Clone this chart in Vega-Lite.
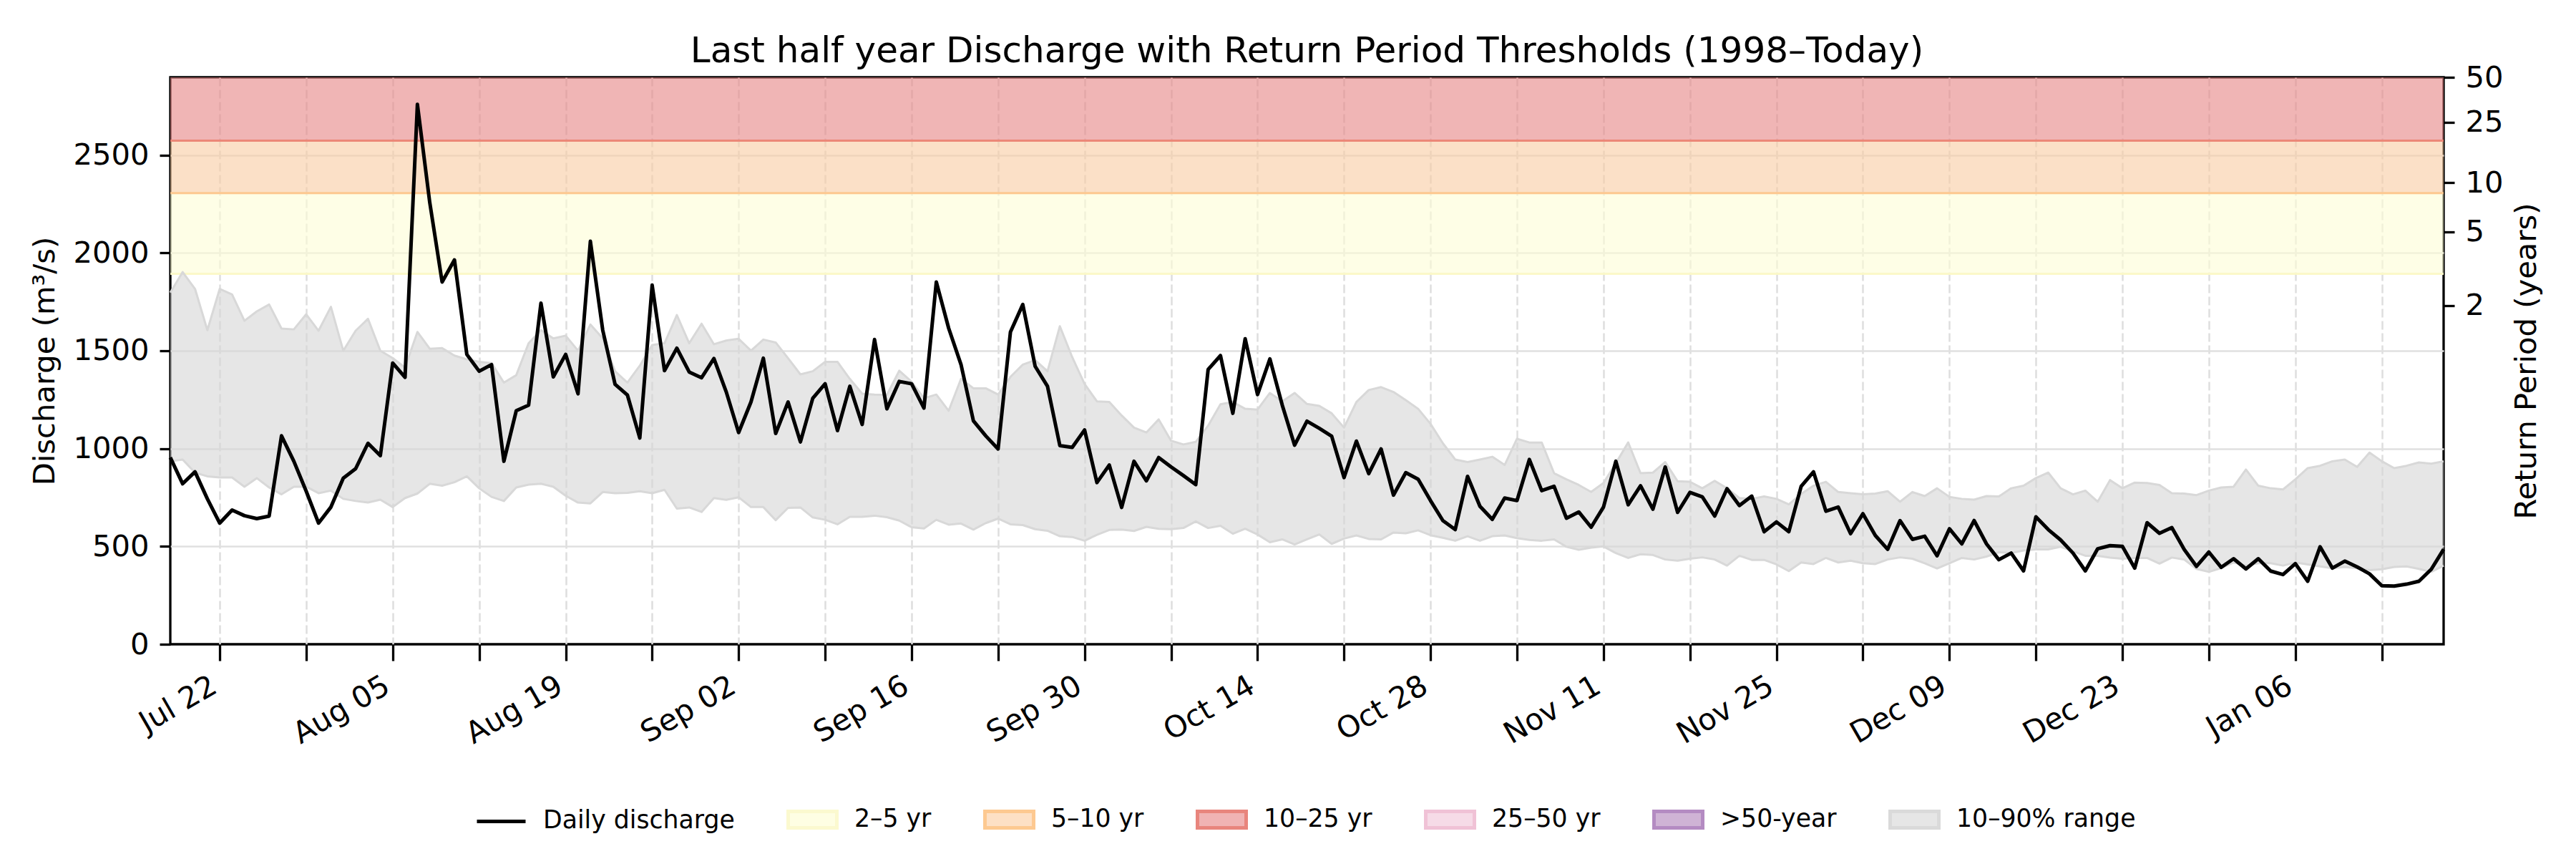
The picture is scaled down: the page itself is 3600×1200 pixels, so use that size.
{
  "$schema": "https://vega.github.io/schema/vega-lite/v6.json",
  "width": 3177,
  "height": 792,
  "autosize": {"type": "none"},
  "padding": {"left": 238, "top": 108, "right": 185, "bottom": 300},
  "background": "white",
  "title": {
    "text": "Last half year Discharge with Return Period Thresholds (1998–Today)",
    "anchor": "middle",
    "frame": "group",
    "font": "DejaVu Sans",
    "fontSize": 50,
    "fontWeight": "normal",
    "color": "black",
    "offset": -9
  },
  "config": {
    "view": {"stroke": "black", "strokeWidth": 3.3},
    "font": "DejaVu Sans",
    "axis": {
      "labelFont": "DejaVu Sans",
      "labelFontSize": 41.7,
      "titleFont": "DejaVu Sans",
      "titleFontSize": 41.7,
      "titleFontWeight": "normal",
      "labelColor": "black",
      "titleColor": "black",
      "tickColor": "black",
      "tickWidth": 3.3,
      "domain": false,
      "labelFlush": false,
      "labelOverlap": false,
      "labelBound": false
    }
  },
  "resolve": {"scale": {"y": "independent"}, "axis": {"y": "independent"}},
  "layer": [
    {
      "data": {
        "values": [
          {"band": "2–5 yr", "lo": 1893, "hi": 2305},
          {"band": "5–10 yr", "lo": 2305, "hi": 2573},
          {"band": "10–25 yr", "lo": 2573, "hi": 2897}
        ]
      },
      "layer": [
        {
          "mark": {"type": "rect", "opacity": 0.6},
          "encoding": {
            "y": {
              "field": "lo",
              "type": "quantitative",
              "scale": {"domain": [0, 2897], "nice": false, "zero": false},
              "axis": {
                "orient": "right",
                "title": "Return Period (years)",
                "values": [1731, 2108, 2358, 2668, 2897],
                "labelExpr": "datum.value < 1900 ? '2' : datum.value < 2200 ? '5' : datum.value < 2500 ? '10' : datum.value < 2800 ? '25' : '50'",
                "grid": false,
                "tickSize": 15,
                "labelPadding": 15,
                "titleAngle": 270,
                "titleBaseline": "top",
                "titlePadding": 12
              }
            },
            "y2": {"field": "hi"},
            "color": {
              "field": "band",
              "type": "nominal",
              "scale": {
                "domain": ["2–5 yr", "5–10 yr", "10–25 yr", "2-year threshold", "5-year threshold", "10-year threshold"],
                "range": ["#fdfdd6", "#f9cca2", "#e68383", "#fbf8c8", "#fdc890", "#ec8778"]
              },
              "legend": null
            }
          }
        },
        {
          "data": {
            "values": [
              {"band": "2-year threshold", "q": 1893},
              {"band": "5-year threshold", "q": 2305},
              {"band": "10-year threshold", "q": 2573}
            ]
          },
          "mark": {"type": "rule", "strokeWidth": 3},
          "encoding": {
            "y": {"field": "q", "type": "quantitative"},
            "color": {
              "field": "band",
              "type": "nominal",
              "scale": {
                "domain": ["2–5 yr", "5–10 yr", "10–25 yr", "2-year threshold", "5-year threshold", "10-year threshold"],
                "range": ["#fdfdd6", "#f9cca2", "#e68383", "#fbf8c8", "#fdc890", "#ec8778"]
              },
              "legend": null
            }
          }
        }
      ]
    },
    {
      "data": {
        "format": {"parse": {"date": "date:'%Y-%m-%d'"}},
        "values": [
          {"date": "2024-07-18", "q": 954, "p10": 935, "p90": 1797},
          {"date": "2024-07-19", "q": 820, "p10": 944, "p90": 1902},
          {"date": "2024-07-20", "q": 881, "p10": 877, "p90": 1816},
          {"date": "2024-07-21", "q": 743, "p10": 858, "p90": 1605},
          {"date": "2024-07-22", "q": 619, "p10": 852, "p90": 1816},
          {"date": "2024-07-23", "q": 686, "p10": 852, "p90": 1787},
          {"date": "2024-07-24", "q": 657, "p10": 805, "p90": 1653},
          {"date": "2024-07-25", "q": 642, "p10": 849, "p90": 1701},
          {"date": "2024-07-26", "q": 655, "p10": 801, "p90": 1736},
          {"date": "2024-07-27", "q": 1065, "p10": 766, "p90": 1613},
          {"date": "2024-07-28", "q": 935, "p10": 805, "p90": 1609},
          {"date": "2024-07-29", "q": 782, "p10": 805, "p90": 1686},
          {"date": "2024-07-30", "q": 619, "p10": 772, "p90": 1602},
          {"date": "2024-07-31", "q": 701, "p10": 785, "p90": 1724},
          {"date": "2024-08-01", "q": 849, "p10": 743, "p90": 1500},
          {"date": "2024-08-02", "q": 897, "p10": 732, "p90": 1602},
          {"date": "2024-08-03", "q": 1027, "p10": 724, "p90": 1663},
          {"date": "2024-08-04", "q": 964, "p10": 739, "p90": 1500},
          {"date": "2024-08-05", "q": 1437, "p10": 701, "p90": 1462},
          {"date": "2024-08-06", "q": 1364, "p10": 747, "p90": 1414},
          {"date": "2024-08-07", "q": 2759, "p10": 770, "p90": 1596},
          {"date": "2024-08-08", "q": 2257, "p10": 820, "p90": 1510},
          {"date": "2024-08-09", "q": 1851, "p10": 810, "p90": 1513},
          {"date": "2024-08-10", "q": 1964, "p10": 828, "p90": 1475},
          {"date": "2024-08-11", "q": 1481, "p10": 858, "p90": 1456},
          {"date": "2024-08-12", "q": 1395, "p10": 797, "p90": 1443},
          {"date": "2024-08-13", "q": 1429, "p10": 753, "p90": 1437},
          {"date": "2024-08-14", "q": 935, "p10": 732, "p90": 1337},
          {"date": "2024-08-15", "q": 1193, "p10": 801, "p90": 1375},
          {"date": "2024-08-16", "q": 1222, "p10": 816, "p90": 1538},
          {"date": "2024-08-17", "q": 1743, "p10": 820, "p90": 1605},
          {"date": "2024-08-18", "q": 1366, "p10": 805, "p90": 1563},
          {"date": "2024-08-19", "q": 1481, "p10": 759, "p90": 1577},
          {"date": "2024-08-20", "q": 1280, "p10": 724, "p90": 1500},
          {"date": "2024-08-21", "q": 2059, "p10": 720, "p90": 1634},
          {"date": "2024-08-22", "q": 1605, "p10": 778, "p90": 1563},
          {"date": "2024-08-23", "q": 1328, "p10": 772, "p90": 1395},
          {"date": "2024-08-24", "q": 1273, "p10": 774, "p90": 1337},
          {"date": "2024-08-25", "q": 1054, "p10": 782, "p90": 1423},
          {"date": "2024-08-26", "q": 1835, "p10": 772, "p90": 1529},
          {"date": "2024-08-27", "q": 1398, "p10": 789, "p90": 1538},
          {"date": "2024-08-28", "q": 1513, "p10": 693, "p90": 1682},
          {"date": "2024-08-29", "q": 1391, "p10": 699, "p90": 1538},
          {"date": "2024-08-30", "q": 1362, "p10": 676, "p90": 1638},
          {"date": "2024-08-31", "q": 1460, "p10": 747, "p90": 1533},
          {"date": "2024-09-01", "q": 1289, "p10": 738, "p90": 1552},
          {"date": "2024-09-02", "q": 1082, "p10": 751, "p90": 1561},
          {"date": "2024-09-03", "q": 1238, "p10": 701, "p90": 1500},
          {"date": "2024-09-04", "q": 1462, "p10": 701, "p90": 1557},
          {"date": "2024-09-05", "q": 1077, "p10": 634, "p90": 1542},
          {"date": "2024-09-06", "q": 1238, "p10": 697, "p90": 1462},
          {"date": "2024-09-07", "q": 1034, "p10": 699, "p90": 1379},
          {"date": "2024-09-08", "q": 1257, "p10": 648, "p90": 1395},
          {"date": "2024-09-09", "q": 1331, "p10": 636, "p90": 1443},
          {"date": "2024-09-10", "q": 1092, "p10": 613, "p90": 1443},
          {"date": "2024-09-11", "q": 1318, "p10": 651, "p90": 1356},
          {"date": "2024-09-12", "q": 1123, "p10": 651, "p90": 1280},
          {"date": "2024-09-13", "q": 1557, "p10": 657, "p90": 1276},
          {"date": "2024-09-14", "q": 1203, "p10": 649, "p90": 1274},
          {"date": "2024-09-15", "q": 1343, "p10": 632, "p90": 1398},
          {"date": "2024-09-16", "q": 1331, "p10": 598, "p90": 1341},
          {"date": "2024-09-17", "q": 1207, "p10": 592, "p90": 1257},
          {"date": "2024-09-18", "q": 1851, "p10": 636, "p90": 1276},
          {"date": "2024-09-19", "q": 1615, "p10": 611, "p90": 1193},
          {"date": "2024-09-20", "q": 1429, "p10": 617, "p90": 1356},
          {"date": "2024-09-21", "q": 1142, "p10": 586, "p90": 1308},
          {"date": "2024-09-22", "q": 1065, "p10": 619, "p90": 1308},
          {"date": "2024-09-23", "q": 998, "p10": 642, "p90": 1276},
          {"date": "2024-09-24", "q": 1596, "p10": 613, "p90": 1366},
          {"date": "2024-09-25", "q": 1736, "p10": 609, "p90": 1429},
          {"date": "2024-09-26", "q": 1420, "p10": 588, "p90": 1452},
          {"date": "2024-09-27", "q": 1318, "p10": 580, "p90": 1395},
          {"date": "2024-09-28", "q": 1015, "p10": 552, "p90": 1625},
          {"date": "2024-09-29", "q": 1006, "p10": 548, "p90": 1467},
          {"date": "2024-09-30", "q": 1095, "p10": 529, "p90": 1330},
          {"date": "2024-10-01", "q": 826, "p10": 559, "p90": 1241},
          {"date": "2024-10-02", "q": 916, "p10": 584, "p90": 1238},
          {"date": "2024-10-03", "q": 699, "p10": 586, "p90": 1169},
          {"date": "2024-10-04", "q": 935, "p10": 579, "p90": 1107},
          {"date": "2024-10-05", "q": 835, "p10": 600, "p90": 1082},
          {"date": "2024-10-06", "q": 954, "p10": 590, "p90": 1149},
          {"date": "2024-10-07", "q": 906, "p10": 588, "p90": 1040},
          {"date": "2024-10-08", "q": 862, "p10": 594, "p90": 1021},
          {"date": "2024-10-09", "q": 816, "p10": 628, "p90": 1034},
          {"date": "2024-10-10", "q": 1404, "p10": 594, "p90": 1117},
          {"date": "2024-10-11", "q": 1475, "p10": 605, "p90": 1226},
          {"date": "2024-10-12", "q": 1180, "p10": 565, "p90": 1238},
          {"date": "2024-10-13", "q": 1561, "p10": 590, "p90": 1203},
          {"date": "2024-10-14", "q": 1276, "p10": 561, "p90": 1199},
          {"date": "2024-10-15", "q": 1458, "p10": 521, "p90": 1284},
          {"date": "2024-10-16", "q": 1222, "p10": 536, "p90": 1241},
          {"date": "2024-10-17", "q": 1017, "p10": 510, "p90": 1284},
          {"date": "2024-10-18", "q": 1140, "p10": 536, "p90": 1228},
          {"date": "2024-10-19", "q": 1103, "p10": 561, "p90": 1218},
          {"date": "2024-10-20", "q": 1063, "p10": 513, "p90": 1180},
          {"date": "2024-10-21", "q": 852, "p10": 540, "p90": 1107},
          {"date": "2024-10-22", "q": 1038, "p10": 556, "p90": 1238},
          {"date": "2024-10-23", "q": 872, "p10": 538, "p90": 1299},
          {"date": "2024-10-24", "q": 998, "p10": 536, "p90": 1314},
          {"date": "2024-10-25", "q": 762, "p10": 571, "p90": 1289},
          {"date": "2024-10-26", "q": 877, "p10": 567, "p90": 1247},
          {"date": "2024-10-27", "q": 843, "p10": 582, "p90": 1203},
          {"date": "2024-10-28", "q": 734, "p10": 557, "p90": 1126},
          {"date": "2024-10-29", "q": 632, "p10": 544, "p90": 1027},
          {"date": "2024-10-30", "q": 586, "p10": 529, "p90": 944},
          {"date": "2024-10-31", "q": 858, "p10": 552, "p90": 931},
          {"date": "2024-11-01", "q": 705, "p10": 529, "p90": 944},
          {"date": "2024-11-02", "q": 638, "p10": 552, "p90": 958},
          {"date": "2024-11-03", "q": 747, "p10": 556, "p90": 916},
          {"date": "2024-11-04", "q": 734, "p10": 542, "p90": 1050},
          {"date": "2024-11-05", "q": 944, "p10": 533, "p90": 1031},
          {"date": "2024-11-06", "q": 785, "p10": 529, "p90": 1031},
          {"date": "2024-11-07", "q": 807, "p10": 536, "p90": 874},
          {"date": "2024-11-08", "q": 644, "p10": 498, "p90": 843},
          {"date": "2024-11-09", "q": 676, "p10": 483, "p90": 814},
          {"date": "2024-11-10", "q": 598, "p10": 494, "p90": 778},
          {"date": "2024-11-11", "q": 701, "p10": 500, "p90": 824},
          {"date": "2024-11-12", "q": 935, "p10": 466, "p90": 925},
          {"date": "2024-11-13", "q": 713, "p10": 441, "p90": 1031},
          {"date": "2024-11-14", "q": 810, "p10": 460, "p90": 874},
          {"date": "2024-11-15", "q": 690, "p10": 456, "p90": 877},
          {"date": "2024-11-16", "q": 906, "p10": 433, "p90": 931},
          {"date": "2024-11-17", "q": 674, "p10": 427, "p90": 833},
          {"date": "2024-11-18", "q": 776, "p10": 437, "p90": 830},
          {"date": "2024-11-19", "q": 753, "p10": 444, "p90": 797},
          {"date": "2024-11-20", "q": 655, "p10": 433, "p90": 835},
          {"date": "2024-11-21", "q": 795, "p10": 402, "p90": 797},
          {"date": "2024-11-22", "q": 709, "p10": 452, "p90": 747},
          {"date": "2024-11-23", "q": 757, "p10": 431, "p90": 743},
          {"date": "2024-11-24", "q": 575, "p10": 431, "p90": 755},
          {"date": "2024-11-25", "q": 625, "p10": 408, "p90": 743},
          {"date": "2024-11-26", "q": 575, "p10": 374, "p90": 715},
          {"date": "2024-11-27", "q": 807, "p10": 418, "p90": 768},
          {"date": "2024-11-28", "q": 881, "p10": 410, "p90": 810},
          {"date": "2024-11-29", "q": 680, "p10": 441, "p90": 830},
          {"date": "2024-11-30", "q": 701, "p10": 418, "p90": 778},
          {"date": "2024-12-01", "q": 565, "p10": 427, "p90": 772},
          {"date": "2024-12-02", "q": 667, "p10": 414, "p90": 766},
          {"date": "2024-12-03", "q": 556, "p10": 410, "p90": 770},
          {"date": "2024-12-04", "q": 485, "p10": 433, "p90": 782},
          {"date": "2024-12-05", "q": 632, "p10": 444, "p90": 728},
          {"date": "2024-12-06", "q": 536, "p10": 437, "p90": 778},
          {"date": "2024-12-07", "q": 552, "p10": 414, "p90": 757},
          {"date": "2024-12-08", "q": 452, "p10": 387, "p90": 797},
          {"date": "2024-12-09", "q": 590, "p10": 414, "p90": 753},
          {"date": "2024-12-10", "q": 513, "p10": 441, "p90": 743},
          {"date": "2024-12-11", "q": 632, "p10": 433, "p90": 739},
          {"date": "2024-12-12", "q": 513, "p10": 448, "p90": 757},
          {"date": "2024-12-13", "q": 432, "p10": 470, "p90": 755},
          {"date": "2024-12-14", "q": 466, "p10": 466, "p90": 797},
          {"date": "2024-12-15", "q": 375, "p10": 479, "p90": 810},
          {"date": "2024-12-16", "q": 651, "p10": 485, "p90": 849},
          {"date": "2024-12-17", "q": 586, "p10": 485, "p90": 877},
          {"date": "2024-12-18", "q": 533, "p10": 498, "p90": 797},
          {"date": "2024-12-19", "q": 466, "p10": 475, "p90": 766},
          {"date": "2024-12-20", "q": 375, "p10": 452, "p90": 785},
          {"date": "2024-12-21", "q": 488, "p10": 452, "p90": 728},
          {"date": "2024-12-22", "q": 504, "p10": 443, "p90": 839},
          {"date": "2024-12-23", "q": 500, "p10": 437, "p90": 797},
          {"date": "2024-12-24", "q": 389, "p10": 441, "p90": 826},
          {"date": "2024-12-25", "q": 621, "p10": 441, "p90": 824},
          {"date": "2024-12-26", "q": 567, "p10": 412, "p90": 814},
          {"date": "2024-12-27", "q": 596, "p10": 443, "p90": 772},
          {"date": "2024-12-28", "q": 485, "p10": 433, "p90": 770},
          {"date": "2024-12-29", "q": 398, "p10": 385, "p90": 762},
          {"date": "2024-12-30", "q": 471, "p10": 370, "p90": 785},
          {"date": "2024-12-31", "q": 393, "p10": 389, "p90": 801},
          {"date": "2025-01-01", "q": 437, "p10": 418, "p90": 805},
          {"date": "2025-01-02", "q": 385, "p10": 402, "p90": 893},
          {"date": "2025-01-03", "q": 437, "p10": 414, "p90": 810},
          {"date": "2025-01-04", "q": 374, "p10": 414, "p90": 797},
          {"date": "2025-01-05", "q": 356, "p10": 402, "p90": 791},
          {"date": "2025-01-06", "q": 412, "p10": 418, "p90": 843},
          {"date": "2025-01-07", "q": 322, "p10": 408, "p90": 900},
          {"date": "2025-01-08", "q": 498, "p10": 398, "p90": 912},
          {"date": "2025-01-09", "q": 389, "p10": 389, "p90": 935},
          {"date": "2025-01-10", "q": 425, "p10": 395, "p90": 944},
          {"date": "2025-01-11", "q": 395, "p10": 389, "p90": 906},
          {"date": "2025-01-12", "q": 360, "p10": 379, "p90": 979},
          {"date": "2025-01-13", "q": 299, "p10": 383, "p90": 935},
          {"date": "2025-01-14", "q": 297, "p10": 395, "p90": 900},
          {"date": "2025-01-15", "q": 307, "p10": 398, "p90": 912},
          {"date": "2025-01-16", "q": 322, "p10": 385, "p90": 929},
          {"date": "2025-01-17", "q": 383, "p10": 370, "p90": 923},
          {"date": "2025-01-18", "q": 485, "p10": 402, "p90": 935}
        ]
      },
      "layer": [
        {
          "mark": {"type": "area", "color": "#d5d5d5", "opacity": 0.6},
          "encoding": {
            "x": {
              "field": "date",
              "type": "temporal",
              "scale": {
                "domain": [{"year": 2024, "month": 7, "date": 18}, {"year": 2025, "month": 1, "date": 18}],
                "nice": false
              },
              "axis": {
                "title": null,
                "values": [
                  {"year": 2024, "month": 7, "date": 22}, {"year": 2024, "month": 7, "date": 29},
                  {"year": 2024, "month": 8, "date": 5}, {"year": 2024, "month": 8, "date": 12},
                  {"year": 2024, "month": 8, "date": 19}, {"year": 2024, "month": 8, "date": 26},
                  {"year": 2024, "month": 9, "date": 2}, {"year": 2024, "month": 9, "date": 9},
                  {"year": 2024, "month": 9, "date": 16}, {"year": 2024, "month": 9, "date": 23},
                  {"year": 2024, "month": 9, "date": 30}, {"year": 2024, "month": 10, "date": 7},
                  {"year": 2024, "month": 10, "date": 14}, {"year": 2024, "month": 10, "date": 21},
                  {"year": 2024, "month": 10, "date": 28}, {"year": 2024, "month": 11, "date": 4},
                  {"year": 2024, "month": 11, "date": 11}, {"year": 2024, "month": 11, "date": 18},
                  {"year": 2024, "month": 11, "date": 25}, {"year": 2024, "month": 12, "date": 2},
                  {"year": 2024, "month": 12, "date": 9}, {"year": 2024, "month": 12, "date": 16},
                  {"year": 2024, "month": 12, "date": 23}, {"year": 2024, "month": 12, "date": 30},
                  {"year": 2025, "month": 1, "date": 6}, {"year": 2025, "month": 1, "date": 13}
                ],
                "labelExpr": "indexof(['Jul 22','Aug 05','Aug 19','Sep 02','Sep 16','Sep 30','Oct 14','Oct 28','Nov 11','Nov 25','Dec 09','Dec 23','Jan 06'], timeFormat(datum.value, '%b %d')) >= 0 ? timeFormat(datum.value, '%b %d') : ''",
                "labelAngle": -30,
                "labelAlign": "right",
                "labelBaseline": "top",
                "labelOffset": -18,
                "labelPadding": 14,
                "tickSize": 23,
                "grid": true,
                "gridDash": [12, 5],
                "gridColor": "#dedede",
                "gridWidth": 2.5
              }
            },
            "y": {
              "field": "p90",
              "type": "quantitative",
              "scale": {"domain": [0, 2897], "nice": false, "zero": false},
              "axis": {
                "title": "Discharge (m³/s)",
                "values": [0, 500, 1000, 1500, 2000, 2500],
                "format": "d",
                "grid": true,
                "gridColor": "#e0e0e0",
                "gridOpacity": {"condition": {"test": "datum.value === 0", "value": 0}, "value": 1},
                "gridWidth": 2.6,
                "tickSize": 15,
                "labelPadding": 15,
                "titlePadding": 17
              }
            },
            "y2": {"field": "p10"}
          }
        },
        {
          "mark": {"type": "line", "color": "#d8d8d8", "strokeWidth": 3, "strokeJoin": "round"},
          "encoding": {
            "x": {"field": "date", "type": "temporal"},
            "y": {"field": "p90", "type": "quantitative"}
          }
        },
        {
          "mark": {"type": "line", "color": "#d8d8d8", "strokeWidth": 3, "strokeJoin": "round"},
          "encoding": {
            "x": {"field": "date", "type": "temporal"},
            "y": {"field": "p10", "type": "quantitative"}
          }
        },
        {
          "mark": {"type": "line", "color": "black", "strokeWidth": 5, "strokeJoin": "round"},
          "encoding": {
            "x": {"field": "date", "type": "temporal"},
            "y": {"field": "q", "type": "quantitative"}
          }
        },
        {
          "data": {
            "values": [
              {"series": "Daily discharge"},
              {"series": "2–5 yr"},
              {"series": "5–10 yr"},
              {"series": "10–25 yr"},
              {"series": "25–50 yr"},
              {"series": ">50-year"},
              {"series": "10–90% range"}
            ]
          },
          "mark": {"type": "point", "opacity": 0, "filled": true},
          "encoding": {
            "fill": {
              "field": "series",
              "type": "nominal",
              "scale": {
                "domain": ["Daily discharge", "2–5 yr", "5–10 yr", "10–25 yr", "25–50 yr", ">50-year", "10–90% range"],
                "range": ["#000000", "#fefee3", "#fde0c5", "#f0b3b3", "#f6dbe7", "#cfb3d5", "#e6e6e6"]
              },
              "legend": {
                "orient": "none", "legendX": 426, "legendY": 1000, "direction": "horizontal", "columns": 7,
                "title": null, "padding": 0, "labelFont": "DejaVu Sans", "labelFontSize": 34.7, "labelColor": "black",
                "labelLimit": 1000, "labelOffset": 22, "columnPadding": 64, "symbolSize": 4624,
                "symbolStrokeWidth": 5, "symbolOpacity": 1, "symbolFillColor": "#000000", "symbolStrokeColor": "#000000"
              }
            },
            "stroke": {
              "field": "series",
              "type": "nominal",
              "scale": {
                "domain": ["Daily discharge", "2–5 yr", "5–10 yr", "10–25 yr", "25–50 yr", ">50-year", "10–90% range"],
                "range": ["#000000", "#fbf9cf", "#fdc991", "#e8857d", "#f0c2d6", "#b48bc2", "#dadada"]
              },
              "legend": {
                "orient": "none", "legendX": 426, "legendY": 1000, "direction": "horizontal", "columns": 7,
                "title": null, "padding": 0, "labelFont": "DejaVu Sans", "labelFontSize": 34.7, "labelColor": "black",
                "labelLimit": 1000, "labelOffset": 22, "columnPadding": 64, "symbolSize": 4624,
                "symbolStrokeWidth": 5, "symbolOpacity": 1, "symbolFillColor": "#000000", "symbolStrokeColor": "#000000"
              }
            },
            "shape": {
              "field": "series",
              "type": "nominal",
              "scale": {
                "domain": ["Daily discharge", "2–5 yr", "5–10 yr", "10–25 yr", "25–50 yr", ">50-year", "10–90% range"],
                "range": ["stroke", "M-1,-0.34H1V0.34H-1Z", "M-1,-0.34H1V0.34H-1Z", "M-1,-0.34H1V0.34H-1Z", "M-1,-0.34H1V0.34H-1Z", "M-1,-0.34H1V0.34H-1Z", "M-1,-0.34H1V0.34H-1Z"]
              },
              "legend": {
                "orient": "none", "legendX": 426, "legendY": 1000, "direction": "horizontal", "columns": 7,
                "title": null, "padding": 0, "labelFont": "DejaVu Sans", "labelFontSize": 34.7, "labelColor": "black",
                "labelLimit": 1000, "labelOffset": 22, "columnPadding": 64, "symbolSize": 4624,
                "symbolStrokeWidth": 5, "symbolOpacity": 1, "symbolFillColor": "#000000", "symbolStrokeColor": "#000000"
              }
            }
          }
        }
      ]
    }
  ]
}
